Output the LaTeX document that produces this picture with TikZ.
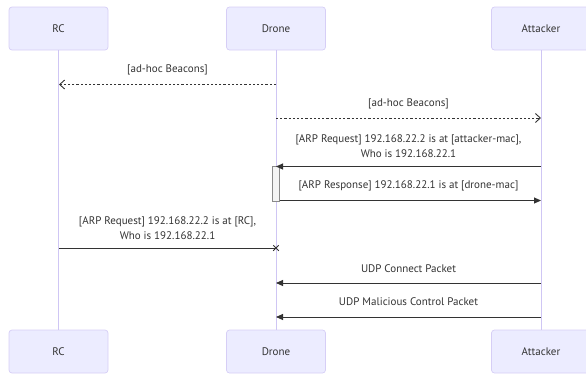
\documentclass[tikz,border=0pt]{standalone}
\usepackage{fontspec}
\setmainfont{PT Sans}
\usetikzlibrary{arrows.meta,shapes.misc}
\definecolor{actfill}{HTML}{ECECFF}
\definecolor{actline}{HTML}{D6CEF6}
\definecolor{lifeline}{HTML}{CFC6F4}
\definecolor{txt}{HTML}{333333}
\definecolor{actvfill}{HTML}{F4F4F4}
\definecolor{actvline}{HTML}{8A8A8A}
\tikzset{
  actor/.style={draw=actline, fill=actfill, rounded corners=3pt, line width=0.7pt,
    minimum width=99pt, minimum height=43pt, inner sep=0pt, text=txt,
    font=\fontsize{11}{12}\selectfont},
  life/.style={draw=lifeline, line width=1pt},
  lbl/.style={text=txt, font=\fontsize{11}{15}\selectfont, align=center, inner sep=0pt},
  smsg/.style={draw=txt, line width=0.9pt, -{Triangle[length=7pt,width=6pt]}},
  dmsg/.style={draw=txt, line width=0.9pt, dash pattern=on 2.2pt off 2pt,
    -{Straight Barb[length=5pt,width=9pt,line width=0.9pt]}},
  xmsg/.style={draw=txt, line width=0.9pt},
  crossend/.style={cross out, draw=txt, line width=1pt, minimum size=4.5pt, inner sep=0pt},
  activ/.style={draw=actvline, fill=actvfill, line width=0.7pt, minimum width=6.6pt,
    minimum height=35pt, inner sep=0pt}
}
\begin{document}
\begin{tikzpicture}[x=1pt,y=-1pt]
\useasboundingbox (0,0) rectangle (586,373);
% actors
\node[actor] (rcT) at (58.5,28.5) {RC};
\node[actor] (drT) at (276,28.5) {Drone};
\node[actor] (atT) at (541,28.5) {Attacker};
\node[actor] (rcB) at (58.5,351.5) {RC};
\node[actor] (drB) at (276,351.5) {Drone};
\node[actor] (atB) at (541,351.5) {Attacker};
% lifelines
\draw[life] (rcT.south) -- (rcB.north);
\draw[life] (drT.south) -- (drB.north);
\draw[life] (atT.south) -- (atB.north);
% activation
\node[activ] (act) at (276,183.5) {};
% message 1
\coordinate (m1a) at (276,84.5);
\coordinate (m1b) at (59,84.5);
\draw[dmsg] (m1a) -- (m1b);
\node[lbl] (t1) at (167.5,70) {[ad-hoc Beacons]};
% message 2
\coordinate (m2a) at (276,118);
\coordinate (m2b) at (541,118);
\draw[dmsg] (m2a) -- (m2b);
\node[lbl] (t2) at (408.5,104) {[ad-hoc Beacons]};
% message 3
\coordinate (m3a) at (541,166.5);
\coordinate (m3b) at (276,166.5);
\draw[smsg] (m3a) -- (m3b);
\node[lbl] (t3) at (408.5,146) {[ARP Request] 192.168.22.2 is at [attacker-mac],\\Who is 192.168.22.1};
% message 4
\coordinate (m4a) at (act.east |- 0,200.5);
\coordinate (m4b) at (541,200.5);
\draw[smsg] (m4a) -- (m4b);
\node[lbl] (t4) at (408.5,186) {[ARP Response] 192.168.22.1 is at [drone-mac]};
% message 5
\coordinate (m5a) at (59,248);
\coordinate (m5b) at (276,248);
\draw[xmsg] (m5a) -- (m5b);
\node[crossend] (x5) at (m5b) {};
\node[lbl] (t5) at (167.5,228.5) {[ARP Request] 192.168.22.2 is at [RC],\\Who is 192.168.22.1};
% message 6
\coordinate (m6a) at (541,283);
\coordinate (m6b) at (276,283);
\draw[smsg] (m6a) -- (m6b);
\node[lbl] (t6) at (408.5,268.5) {UDP Connect Packet};
% message 7
\coordinate (m7a) at (541,317);
\coordinate (m7b) at (276,317);
\draw[smsg] (m7a) -- (m7b);
\node[lbl] (t7) at (408.5,302) {UDP Malicious Control Packet};
\end{tikzpicture}
\end{document}
